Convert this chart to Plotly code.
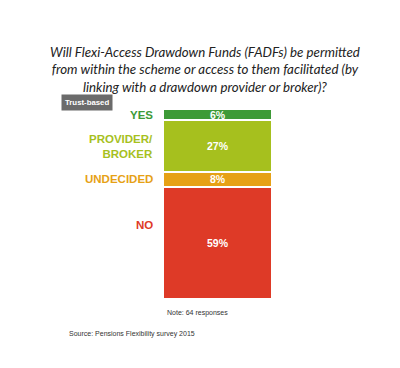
import plotly.graph_objects as go

categories = ["YES", "PROVIDER/<br>BROKER", "UNDECIDED", "NO"]
values = [6, 27, 8, 59]
colors = ["#3d9a37", "#a6c01e", "#e6a116", "#de3a27"]
value_labels = ["6%", "27%", "8%", "59%"]
title_lines = [
    "Will Flexi-Access Drawdown Funds (FADFs) be permitted",
    "from within the scheme or access to them facilitated (by",
    "linking with a drawdown provider or broker)?",
]

# page body has an 8px default margin; figure sized to fill the rest
OFF = 8
W, H = 400 - OFF, 368 - OFF


def px(x):
    return (x - OFF) / W


def py(y):
    return 1 - (y - OFF) / H


fig = go.Figure()

# stack from bottom (NO) to top (YES)
for cat, v, c in reversed(list(zip(categories, values, colors))):
    fig.add_trace(go.Bar(x=[0], y=[v], name=cat, marker=dict(color=c, line=dict(color="white", width=2)),
                         width=1, hoverinfo="skip", showlegend=False))

tops = []
cum = 100
for v in values:
    tops.append(cum)
    cum -= v
centers = [t - v / 2 for t, v in zip(tops, values)]

annotations = []
for cat, v, c, lab, cen, top in zip(categories, values, colors, value_labels, centers, tops):
    ly = cen
    if cat == "NO":
        ly = top - 20
    annotations.append(dict(x=px(155), xref="paper", y=ly, yref="y", text=f"<b>{cat}</b>",
                            showarrow=False, xanchor="right", yanchor="middle", align="right",
                            font=dict(family="Liberation Sans, Arial", size=11.5, color=c)))
    annotations.append(dict(x=0, xref="x", y=cen, yref="y", text=f"<b>{lab}</b>", showarrow=False,
                            xanchor="center", yanchor="middle",
                            font=dict(family="Liberation Sans, Arial", size=10.5, color="white")))

annotations.append(dict(x=px(205), xref="paper", y=py(69), yref="paper",
                        text="<i>" + "<br>".join(title_lines) + "</i>", showarrow=False,
                        xanchor="center", yanchor="middle", align="center",
                        font=dict(family="Lato, Open Sans, sans-serif", size=13.3, color="#222222")))
annotations.append(dict(x=px(87), xref="paper", y=py(103), yref="paper",
                        text="<b>Trust-based</b>", showarrow=False, xanchor="center", yanchor="middle",
                        bgcolor="#6b6b6b", borderpad=3,
                        font=dict(family="Liberation Sans, Arial", size=7.8, color="white")))
annotations.append(dict(x=px(165), xref="paper", y=py(313), yref="paper",
                        text="Note: 64 responses", showarrow=False, xanchor="left", yanchor="middle",
                        font=dict(family="Liberation Sans, Arial", size=7, color="#333333")))
annotations.append(dict(x=px(67), xref="paper", y=py(334), yref="paper",
                        text="Source: Pensions Flexibility survey 2015", showarrow=False,
                        xanchor="left", yanchor="middle",
                        font=dict(family="Liberation Sans, Arial", size=7, color="#333333")))

fig.update_layout(
    width=W, height=H, barmode="stack",
    margin=dict(l=0, r=0, t=0, b=0),
    paper_bgcolor="white", plot_bgcolor="white",
    xaxis=dict(domain=[px(163), px(272)], range=[-0.5, 0.5], visible=False, fixedrange=True),
    yaxis=dict(domain=[py(299), py(109)], range=[0, 100], visible=False, fixedrange=True),
    annotations=annotations,
    bargap=0,
)

fig.write_html("out.html", config={"displayModeBar": False})
